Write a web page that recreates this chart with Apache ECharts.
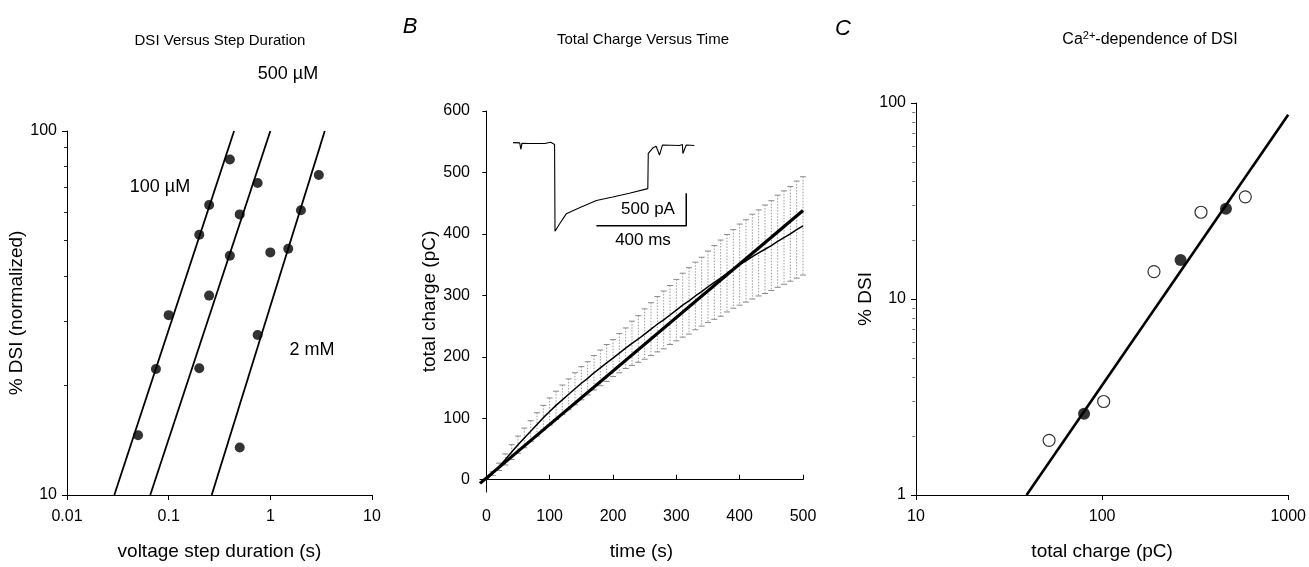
<!DOCTYPE html>
<html>
<head>
<meta charset="utf-8">
<script src="https://cdn.jsdelivr.net/npm/echarts@6/dist/echarts.min.js"></script>
<style>
html,body{margin:0;padding:0;background:#fff;}
#chart{width:1309px;height:567px;}
</style>
</head>
<body>
<div id="chart"></div>
<script>
// ---------- Panel A: DSI versus step duration ----------
const a100uM = [[0.05,14.6],[0.075,22.2],[0.1,31.2],[0.2,51.9],[0.25,62.6],[0.4,83.5]];
const a500uM = [[0.2,22.3],[0.25,35.3],[0.4,45.4],[0.5,59.0],[0.75,72.0]];
const a2mM   = [[0.5,13.5],[0.75,27.5],[1.0,46.4],[1.5,47.5],[2.0,60.6],[3.0,75.7]];
const fit100uM = [[0.0292,10],[0.44,100]];
const fit500uM = [[0.0659,10],[1.0,100]];
const fit2mM   = [[0.265,10],[3.43,100]];
const aXTicks = [0.01,0.1,1,10];
const aYTicks = [10,100];
const aYMinor = [20,30,40,50,60,70,80,90];

// ---------- Panel B: total charge versus time ----------
const bTime = [0,10,20,30,40,50,60,70,80,90,100,110,120,130,140,150,160,170,180,190,200,
  210,220,230,240,250,260,270,280,290,300,310,320,330,340,350,360,370,380,390,400,
  410,420,430,440,450,460,470,480,490,500];
const bMean = [0,10,21,33,45,57,68,79,90,101,111,121,130,139,148,157,165,174,182,190,198,
  206,214,222,229,237,245,253,260,268,276,284,291,299,306,314,321,328,336,343,350,
  356,363,369,375,381,388,394,400,407,413];
const bSem = [0,3,6,9,12,14,16,17,19,20,22,23,24,25,26,27,27,28,29,30,30,
  32,33,36,38,41,43,45,47,48,50,52,54,55,56,58,60,62,63,64,66,
  67,69,70,72,73,75,76,77,79,80];
const bFit = [[-10,-6],[500,438]];
const bXTicks = [0,100,200,300,400,500];
const bYTicks = [0,100,200,300,400,500,600];

// inset current trace (ms, pA)
const insetTrace = [[0,14],[30,10],[35,-90],[40,5],[74,0],[141,0],[168,20],[185,-14],
  [187,-1343],[192,-1330],[207,-1232],[237,-1076],[296,-984],[371,-873],[444,-818],
  [518,-760],[600,-690],[602,-152],[622,-69],[637,-41],[652,-176],[665,-23],[741,-31],
  [754,-14],[756,-152],[771,-23],[807,-31]];
const insetScaleBar = [[371,-1260],[771,-1260],[771,-760]];
const insetScaleLabels = ['500 pA','400 ms'];

// ---------- Panel C: Ca2+-dependence of DSI ----------
const cFilled = [[80,2.6],[264,15.8],[463,28.9]];
const cOpen = [[51.9,1.9],[102,3.0],[190,13.8],[340,27.7],[588,33.2]];
const cFit = [[39.3,1],[1000,87]];
const cXTicks = [10,100,1000];
const cYTicks = [1,10,100];
const cYMinor = [2,3,4,5,6,7,8,9,20,30,40,50,60,70,80,90];

const FONT = 'Liberation Sans, Arial, sans-serif';
const TICK_FS = 16, NAME_FS = 19;
const GRID_A = {left:67, top:131, width:305, height:364};
const GRID_B = {left:480, top:111, width:323, height:381};
const GRID_INSET = {left:513, top:137, width:182, height:98};
const GRID_C = {left:916, top:103, width:373, height:392};
const chart = echarts.init(document.getElementById('chart'), null, {renderer:'canvas'});

function axisBase(extra){
  return Object.assign({
    axisLine:{show:true,lineStyle:{color:'#000',width:1}},
    splitLine:{show:false},
    nameTextStyle:{color:'#000',fontFamily:FONT,fontSize:NAME_FS},
    nameLocation:'middle'
  }, extra);
}
function ticks(vals, len, inside){
  return {show:true,length:len,inside:!!inside,customValues:vals,lineStyle:{color:'#000',width:1}};
}
function labels(vals, margin, f){
  const o = {color:'#000',fontFamily:FONT,fontSize:TICK_FS,margin:margin,customValues:vals};
  if(f) o.formatter = f;
  return o;
}
function fmt(v){ return String(+(+v).toPrecision(6)); }
// minor ticks: a right-side axis shifted back onto the left edge, ticks pointing outward (left)
function minorAxis(grid, width, min, max, vals, color){
  return {type:'log',logBase:10,gridIndex:grid,min:min,max:max,position:'right',offset:-width,
    axisLine:{show:false},splitLine:{show:false},
    axisLabel:{show:false},
    axisTick:{show:true,inside:true,length:3,customValues:vals,lineStyle:{color:color,width:1}}};
}

const bErr = bTime.map((t,i)=>[t,bMean[i],bSem[i]]);
const bMeanLine = bTime.map((t,i)=>[t,bMean[i]]);

const option = {
  animation:false,
  backgroundColor:'#fff',
  grid:[GRID_A, GRID_B, GRID_INSET, GRID_C],
  xAxis:[
    axisBase({type:'log',logBase:10,gridIndex:0,min:0.01,max:10,name:'voltage step duration (s)',nameGap:47,
      axisTick:ticks(aXTicks,5),axisLabel:labels(aXTicks,14,fmt)}),
    axisBase({type:'value',gridIndex:1,min:-10,max:500,name:'time (s)',nameGap:50,
      axisTick:ticks(bXTicks,5,true),axisLabel:labels(bXTicks,17)}),
    {type:'value',gridIndex:2,min:0,max:810,show:false},
    axisBase({type:'log',logBase:10,gridIndex:3,min:10,max:1000,name:'total charge (pC)',nameGap:47,
      axisTick:ticks(cXTicks,5),axisLabel:labels(cXTicks,14,fmt)})
  ],
  yAxis:[
    axisBase({type:'log',logBase:10,gridIndex:0,min:10,max:100,position:'left',name:'% DSI (normalized)',nameGap:35,
      axisTick:ticks(aYTicks,5),axisLabel:labels(aYTicks,10,fmt)}),
    minorAxis(0,GRID_A.width,10,100,aYMinor,'#222'),
    axisBase({type:'value',gridIndex:1,min:-20,max:600,name:'total charge (pC)',nameGap:38,
      axisTick:ticks(bYTicks,4),axisLabel:labels(bYTicks,10)}),
    {type:'value',gridIndex:2,min:-1400,max:100,show:false},
    axisBase({type:'log',logBase:10,gridIndex:3,min:1,max:100,position:'left',name:'% DSI',nameGap:36,
      axisTick:ticks(cYTicks,5),axisLabel:labels(cYTicks,10,fmt)}),
    minorAxis(3,GRID_C.width,1,100,cYMinor,'#777')
  ],
  graphic:[
    {type:'text',x:220,y:41,style:{text:'DSI Versus Step Duration',font:'15px '+FONT,fill:'#000',align:'center',verticalAlign:'middle'}},
    {type:'text',x:410,y:27,style:{text:'B',font:'italic 22px '+FONT,fill:'#000',align:'center',verticalAlign:'middle'}},
    {type:'text',x:643,y:40,style:{text:'Total Charge Versus Time',font:'15px '+FONT,fill:'#000',align:'center',verticalAlign:'middle'}},
    {type:'text',x:843,y:29,style:{text:'C',font:'italic 22px '+FONT,fill:'#000',align:'center',verticalAlign:'middle'}},
    {type:'text',x:1150,y:40,style:{text:'Ca{s|2+}-dependence of DSI',font:'16px '+FONT,fill:'#000',align:'center',verticalAlign:'middle',
      rich:{s:{fontSize:11,fontFamily:FONT,verticalAlign:'top',padding:[0,0,9,0]}}}},
    {type:'text',x:288,y:74,style:{text:'500 \u00b5M',font:'18px '+FONT,fill:'#000',align:'center',verticalAlign:'middle'}},
    {type:'text',x:160,y:187,style:{text:'100 \u00b5M',font:'18px '+FONT,fill:'#000',align:'center',verticalAlign:'middle'}},
    {type:'text',x:312,y:350,style:{text:'2 mM',font:'18px '+FONT,fill:'#000',align:'center',verticalAlign:'middle'}},
    {type:'text',x:648,y:209,style:{text:insetScaleLabels[0],font:'17px '+FONT,fill:'#000',align:'center',verticalAlign:'middle'}},
    {type:'text',x:643,y:240,style:{text:insetScaleLabels[1],font:'17px '+FONT,fill:'#000',align:'center',verticalAlign:'middle'}}
  ],
  series:[
    // Panel A
    {type:'line',xAxisIndex:0,yAxisIndex:0,data:fit100uM,symbol:'none',lineStyle:{color:'#000',width:1.8},z:2},
    {type:'line',xAxisIndex:0,yAxisIndex:0,data:fit500uM,symbol:'none',lineStyle:{color:'#000',width:1.8},z:2},
    {type:'line',xAxisIndex:0,yAxisIndex:0,data:fit2mM,symbol:'none',lineStyle:{color:'#000',width:1.8},z:2},
    {type:'scatter',xAxisIndex:0,yAxisIndex:0,data:a100uM,symbol:'circle',symbolSize:10,itemStyle:{color:'#000'},z:3},
    {type:'scatter',xAxisIndex:0,yAxisIndex:0,data:a500uM,symbol:'circle',symbolSize:10,itemStyle:{color:'#000'},z:3},
    {type:'scatter',xAxisIndex:0,yAxisIndex:0,data:a2mM,symbol:'circle',symbolSize:10,itemStyle:{color:'#000'},z:3},
    // Panel B
    {type:'custom',xAxisIndex:1,yAxisIndex:2,data:bErr,z:1,
      renderItem:function(params,api){
        const x=api.value(0), m=api.value(1), s=api.value(2);
        if(!s) return null;
        const top=api.coord([x,m+s]), bot=api.coord([x,m-s]);
        const st={stroke:'#9a9a9a',lineWidth:1,lineDash:[1.5,1.5]};
        const cap={stroke:'#8a8a8a',lineWidth:1};
        return {type:'group',children:[
          {type:'line',shape:{x1:top[0],y1:top[1],x2:bot[0],y2:bot[1]},style:st},
          {type:'line',shape:{x1:top[0]-3,y1:top[1],x2:top[0]+3,y2:top[1]},style:cap},
          {type:'line',shape:{x1:bot[0]-3,y1:bot[1],x2:bot[0]+3,y2:bot[1]},style:cap}
        ]};
      }},
    {type:'line',xAxisIndex:1,yAxisIndex:2,data:bMeanLine,symbol:'none',lineStyle:{color:'#000',width:1.5},z:3},
    {type:'line',xAxisIndex:1,yAxisIndex:2,data:bFit,symbol:'none',lineStyle:{color:'#000',width:3.2},z:4},
    // inset
    {type:'line',xAxisIndex:2,yAxisIndex:3,data:insetTrace,symbol:'none',lineStyle:{color:'#000',width:1.1},z:4},
    {type:'line',xAxisIndex:2,yAxisIndex:3,data:insetScaleBar,symbol:'none',lineStyle:{color:'#000',width:1.5},z:4},
    // Panel C
    {type:'line',xAxisIndex:3,yAxisIndex:4,data:cFit,symbol:'none',lineStyle:{color:'#000',width:2.6},z:2},
    {type:'scatter',xAxisIndex:3,yAxisIndex:4,data:cOpen,symbol:'circle',symbolSize:12,itemStyle:{color:'#fff',borderColor:'#000',borderWidth:1.2},z:3},
    {type:'scatter',xAxisIndex:3,yAxisIndex:4,data:cFilled,symbol:'circle',symbolSize:12,itemStyle:{color:'#000'},z:3}
  ]
};
chart.setOption(option);
</script>
</body>
</html>
